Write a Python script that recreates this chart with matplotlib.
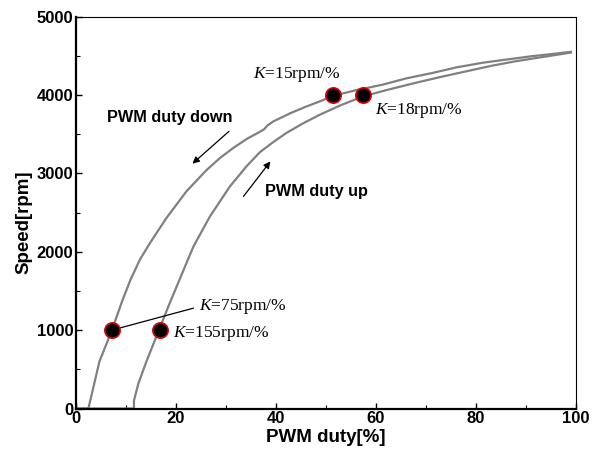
import matplotlib
matplotlib.use("Agg")
import matplotlib.pyplot as plt
from matplotlib.ticker import MultipleLocator

# Data
down_x = [0, 2.5, 2.6, 4.7, 7.2, 9.3, 10.9, 12.8, 14.8, 18.1, 22.1, 26.1, 28.8, 31.5, 34.2, 36.8, 37.6, 38.3, 39.5, 43.0, 46.0, 48.8, 51.5, 56.0, 61.3, 66.0, 71.3, 76.0, 81.3, 86.0, 91.3, 95.0, 99.0]
down_y = [0, 0, 30, 600, 1000, 1380, 1641, 1900, 2110, 2430, 2770, 3040, 3195, 3325, 3440, 3530, 3560, 3610, 3663, 3770, 3850, 3918, 3990, 4060, 4130, 4210, 4280, 4350, 4410, 4450, 4495, 4520, 4550]

up_x = [0, 11.6, 11.6, 12.5, 14.1, 16.6, 18.6, 20.7, 23.5, 26.8, 30.8, 34.1, 36.8, 39.5, 42.1, 45.5, 48.8, 53.0, 57.4, 62.0, 68.0, 73.0, 78.0, 83.0, 88.0, 93.0, 99.0]
up_y = [0, 0, 100, 322, 600, 1000, 1320, 1641, 2066, 2450, 2833, 3088, 3270, 3400, 3515, 3640, 3748, 3870, 3980, 4060, 4155, 4230, 4300, 4370, 4430, 4480, 4540]

point_x = [7.2, 16.8, 51.5, 57.5]
point_y = [1000, 1000, 4000, 4000]

k_labels = ["75", "155", "15", "18"]

SANS = "Liberation Sans"
SERIF = "Liberation Serif"

plt.rcParams["mathtext.fontset"] = "custom"
plt.rcParams["mathtext.it"] = SERIF + ":italic"
plt.rcParams["mathtext.rm"] = SERIF

fig = plt.figure(figsize=(5.98, 4.59), dpi=100)
ax = fig.add_axes([0.127, 0.110, 0.836, 0.854])

ax.plot(down_x, down_y, color="#808080", lw=1.6, solid_joinstyle="round", zorder=2)
ax.plot(up_x, up_y, color="#808080", lw=1.6, solid_joinstyle="round", zorder=2)
ax.plot(point_x, point_y, "o", ms=11, mfc="black", mec="#e00000", mew=1.2, zorder=4, clip_on=False)

ax.set_xlim(0, 100)
ax.set_ylim(0, 5000)
ax.xaxis.set_major_locator(MultipleLocator(20))
ax.xaxis.set_minor_locator(MultipleLocator(10))
ax.yaxis.set_major_locator(MultipleLocator(1000))
ax.yaxis.set_minor_locator(MultipleLocator(500))
ax.tick_params(which="both", direction="in", top=False, right=False)
ax.tick_params(which="major", length=4, width=1, pad=2)
ax.tick_params(which="minor", length=3, width=0.8)
for lab in ax.get_xticklabels() + ax.get_yticklabels():
    lab.set_fontfamily(SANS)
    lab.set_fontweight("bold")
    lab.set_fontsize(12)

ax.spines["left"].set_linewidth(1.6)
ax.spines["bottom"].set_linewidth(1.6)
ax.spines["top"].set_linewidth(0.8)
ax.spines["right"].set_linewidth(0.8)
for s in ax.spines.values():
    s.set_color("black")

ax.set_xlabel("PWM duty[%]", fontfamily=SANS, fontweight="bold", fontsize=13.5, labelpad=2)
ax.set_ylabel("Speed[rpm]", fontfamily=SANS, fontweight="bold", fontsize=13.5, labelpad=2)
ax.yaxis.set_label_coords(-0.086, 0.474)

def ktext(x, y, val):
    ax.text(x, y, r"$\it{K}$" + "=" + val + "rpm/%", fontfamily=SERIF, fontsize=12.5,
            va="center", ha="left")

ktext(24.7, 1300, k_labels[0])
ktext(19.4, 960, k_labels[1])
ktext(35.4, 4260, k_labels[2])
ktext(59.8, 3800, k_labels[3])

# leader line for K=75
ax.annotate("", xy=(point_x[0], point_y[0]), xytext=(23.5, 1280),
            arrowprops=dict(arrowstyle="-", color="black", lw=0.9, shrinkB=5, shrinkA=0))

ax.text(6.2, 3707, "PWM duty down", fontfamily=SANS, fontweight="bold", fontsize=11.7, va="center", ha="left")
ax.text(37.8, 2765, "PWM duty up", fontfamily=SANS, fontweight="bold", fontsize=11.7, va="center", ha="left")

ax.annotate("", xy=(23.3, 3123), xytext=(30.6, 3535),
            arrowprops=dict(arrowstyle="-|>", color="black", lw=0.9, mutation_scale=10, shrinkA=0, shrinkB=0))
ax.annotate("", xy=(38.9, 3152), xytext=(33.5, 2705),
            arrowprops=dict(arrowstyle="-|>", color="black", lw=0.9, mutation_scale=10, shrinkA=0, shrinkB=0))

fig.savefig("out.png", dpi=100)
